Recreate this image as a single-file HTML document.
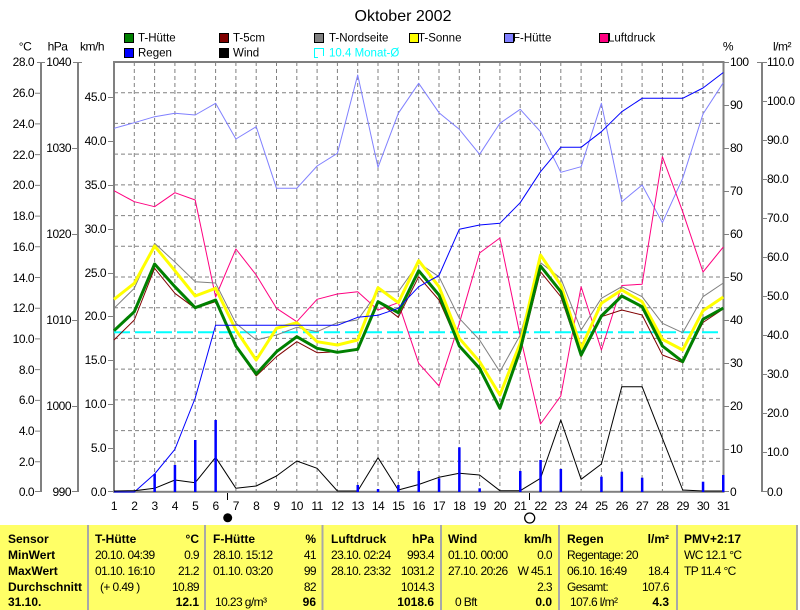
<!DOCTYPE html>
<html><head><meta charset="utf-8"><style>
html,body{margin:0;padding:0;background:#fff;}
svg{display:block;}
text{font-family:"Liberation Sans",Arial,sans-serif;fill:#000;}
.ax{font-size:12px;letter-spacing:-0.5px;}
.lg{font-size:11.5px;}
.tb{font-size:12px;font-weight:bold;}
.tr{font-size:12px;letter-spacing:-0.6px;white-space:pre;}
</style></head><body>
<svg width="800" height="610" viewBox="0 0 800 610" xmlns="http://www.w3.org/2000/svg">
<rect x="0" y="0" width="800" height="610" fill="#fff"/>
<!-- title -->
<text x="403" y="21" text-anchor="middle" style="font-size:16px">Oktober 2002</text>

<!-- legend -->
<g class="lg">
<rect x="124.5" y="33.5" width="9" height="9" fill="#008000" stroke="#000"/><text x="138" y="41.7">T-Hütte</text>
<rect x="219.5" y="33.5" width="9" height="9" fill="#800000" stroke="#000"/><text x="233" y="41.7">T-5cm</text>
<rect x="314.5" y="33.5" width="9" height="9" fill="#808080" stroke="#000"/><text x="329" y="41.7">T-Nordseite</text>
<rect x="409.5" y="33.5" width="9" height="9" fill="#FFFF00" stroke="#000"/><text x="418" y="41.7">T-Sonne</text>
<rect x="504.5" y="33.5" width="9" height="9" fill="#8080FF" stroke="#000"/><text x="513" y="41.7">F-Hütte</text>
<rect x="599.5" y="33.5" width="9" height="9" fill="#FF0080" stroke="#000"/><text x="608" y="41.7">Luftdruck</text>
<rect x="124.5" y="48.5" width="9" height="9" fill="#0000FF" stroke="#000"/><text x="138" y="56.3">Regen</text>
<rect x="219.5" y="48.5" width="9" height="9" fill="#000000" stroke="#000"/><text x="233" y="56.3">Wind</text>
<path d="M318,57.5 L314.5,57.5 L314.5,48.5 L323.5,48.5 L323.5,56" fill="none" stroke="#00FFFF" stroke-width="1"/>
<text x="329" y="56.3" style="fill:#00FFFF">10.4 Monat-Ø</text>
</g>

<!-- unit labels -->
<g class="ax">
<text x="25" y="50.5" text-anchor="middle">°C</text>
<text x="57.5" y="50.5" text-anchor="middle">hPa</text>
<text x="92" y="50.5" text-anchor="middle">km/h</text>
<text x="728" y="50.5" text-anchor="middle">%</text>
<text x="782" y="50.5" text-anchor="middle">l/m²</text>
</g>

<!-- left axes lines -->
<g stroke="#808080" fill="none">
<line x1="41" y1="62" x2="41" y2="492" stroke-width="2"/>
<line x1="78" y1="62" x2="78" y2="492" stroke-width="2"/>
<line x1="762" y1="62" x2="762" y2="492" stroke-width="2"/>
<path d="M37,62.5H45 M35,93.2H41 M35,123.9H41 M35,154.6H41 M35,185.4H41 M35,216.1H41 M35,246.8H41 M35,277.5H41 M35,308.2H41 M35,338.9H41 M35,369.6H41 M35,400.4H41 M35,431.1H41 M35,461.8H41 M35,491.5H41" stroke-width="1"/>
<path d="M73,62.5H82 M72,148.5H78 M72,234.5H78 M72,320.5H78 M72,406.5H78 M72,491.5H78" stroke-width="1"/>
<path d="M108,97.5H114 M108,141.5H114 M108,185.5H114 M108,229.5H114 M108,273.5H114 M108,316.5H114 M108,360.5H114 M108,404.5H114 M108,448.5H114 M108,491.5H114" stroke-width="1"/>
<path d="M723,62.5H729 M723,105.5H729 M723,148.5H729 M723,191.5H729 M723,234.5H729 M723,277.5H729 M723,320.5H729 M723,363.5H729 M723,406.5H729 M723,449.5H729 M723,491.5H729" stroke-width="1"/>
<path d="M757,62.5H767 M762,101.5H767 M762,140.5H767 M762,179.5H767 M762,218.5H767 M762,257.5H767 M762,296.5H767 M762,335.5H767 M762,374.5H767 M762,413.5H767 M762,452.5H767 M762,491.5H767" stroke-width="1"/>
</g>

<!-- axis labels -->
<g class="ax" text-anchor="end">
<text x="34" y="66">28.0</text><text x="34" y="97">26.0</text><text x="34" y="128">24.0</text><text x="34" y="159">22.0</text><text x="34" y="189">20.0</text><text x="34" y="220">18.0</text><text x="34" y="251">16.0</text><text x="34" y="282">14.0</text><text x="34" y="312">12.0</text><text x="34" y="343">10.0</text><text x="34" y="374">8.0</text><text x="34" y="404">6.0</text><text x="34" y="435">4.0</text><text x="34" y="466">2.0</text><text x="34" y="496">0.0</text>
<text x="71" y="66">1040</text><text x="71" y="152">1030</text><text x="71" y="238">1020</text><text x="71" y="324">1010</text><text x="71" y="410">1000</text><text x="71" y="496">990</text>
<text x="106" y="101">45.0</text><text x="106" y="145">40.0</text><text x="106" y="189">35.0</text><text x="106" y="233">30.0</text><text x="106" y="277">25.0</text><text x="106" y="320">20.0</text><text x="106" y="364">15.0</text><text x="106" y="408">10.0</text><text x="106" y="452">5.0</text><text x="106" y="496">0.0</text>
</g>
<g class="ax">
<text x="730" y="66">100</text><text x="730" y="109">90</text><text x="730" y="152">80</text><text x="730" y="195">70</text><text x="730" y="238">60</text><text x="730" y="281">50</text><text x="730" y="324">40</text><text x="730" y="367">30</text><text x="730" y="410">20</text><text x="730" y="453">10</text><text x="730" y="496">0</text>
<text x="767" y="66">110.0</text><text x="767" y="105">100.0</text><text x="767" y="144">90.0</text><text x="767" y="183">80.0</text><text x="767" y="222">70.0</text><text x="767" y="261">60.0</text><text x="767" y="300">50.0</text><text x="767" y="339">40.0</text><text x="767" y="378">30.0</text><text x="767" y="417">20.0</text><text x="767" y="456">10.0</text><text x="767" y="496">0.0</text>
</g>

<!-- day labels -->
<g class="ax" text-anchor="middle">
<text x="114" y="510">1</text><text x="134.3" y="510">2</text><text x="154.6" y="510">3</text><text x="174.9" y="510">4</text><text x="195.2" y="510">5</text><text x="215.6" y="510">6</text><text x="235.9" y="510">7</text><text x="256.2" y="510">8</text><text x="276.5" y="510">9</text><text x="296.8" y="510">10</text><text x="317.1" y="510">11</text><text x="337.4" y="510">12</text><text x="357.7" y="510">13</text><text x="378" y="510">14</text><text x="398.3" y="510">15</text><text x="418.7" y="510">16</text><text x="439" y="510">17</text><text x="459.3" y="510">18</text><text x="479.6" y="510">19</text><text x="499.9" y="510">20</text><text x="520.2" y="510">21</text><text x="540.5" y="510">22</text><text x="560.8" y="510">23</text><text x="581.1" y="510">24</text><text x="601.4" y="510">25</text><text x="621.8" y="510">26</text><text x="642.1" y="510">27</text><text x="662.4" y="510">28</text><text x="682.7" y="510">29</text><text x="703" y="510">30</text><text x="723.3" y="510">31</text>
</g>

<!-- grid -->
<g stroke="#808080" stroke-width="1" stroke-dasharray="4 3" fill="none">
<path d="M114,92.7H723 M114,123.4H723 M114,154.1H723 M114,184.9H723 M114,215.6H723 M114,246.3H723 M114,277H723 M114,307.7H723 M114,338.4H723 M114,369.1H723 M114,399.9H723 M114,430.6H723 M114,461.3H723"/>
<path d="M134.3,62V492 M154.6,62V492 M174.9,62V492 M195.2,62V492 M215.6,62V492 M235.9,62V492 M256.2,62V492 M276.5,62V492 M296.8,62V492 M317.1,62V492 M337.4,62V492 M357.7,62V492 M378,62V492 M398.3,62V492 M418.7,62V492 M439,62V492 M459.3,62V492 M479.6,62V492 M499.9,62V492 M520.2,62V492 M540.5,62V492 M560.8,62V492 M581.1,62V492 M601.4,62V492 M621.8,62V492 M642.1,62V492 M662.4,62V492 M682.7,62V492 M703,62V492"/>
</g>

<!-- plot border -->
<rect x="114" y="62" width="609.5" height="429.8" fill="none" stroke="#808080" stroke-width="2"/>

<!-- monthly average -->
<line x1="114" y1="332.3" x2="721" y2="332.3" stroke="#00FFFF" stroke-width="2" stroke-dasharray="16 5"/>

<g fill="none" stroke-linejoin="round">
<polyline stroke="#8080FF" stroke-width="1" points="114,128.3 134.3,122.7 154.6,116.7 174.9,113.3 195.2,115 215.6,103.3 235.9,139 256.2,126.7 276.5,188.3 296.8,188.3 317.1,166 337.4,153.3 357.7,75 378,167.3 398.3,113.3 418.7,83.3 439,112.7 459.3,129.3 479.6,154.3 499.9,123.3 520.2,109.3 540.5,131.7 560.8,172.3 581.1,166.7 601.4,103.3 621.8,201.7 642.1,185 662.4,222.7 682.7,178.3 703,114 723.3,82.7"/>
<polyline stroke="#FF0080" stroke-width="1" points="114,190.7 134.3,201.7 154.6,206.7 174.9,192.7 195.2,200 215.6,297 235.9,249 256.2,275 276.5,308.3 296.8,321.7 317.1,299.3 337.4,294 357.7,291.7 378,310 398.3,302.7 418.7,363.3 439,386 459.3,323.3 479.6,253 499.9,238 520.2,336 540.5,424 560.8,396 581.1,286.7 601.4,350 621.8,285.5 642.1,284.2 662.4,156.7 682.7,211.7 703,272 723.3,247"/>
<polyline stroke="#808080" stroke-width="1" points="114,308.3 134.3,288.3 154.6,243.3 174.9,262 195.2,281.7 215.6,283 235.9,323.3 256.2,340 276.5,335 296.8,327.3 317.1,331.7 337.4,322.7 357.7,320 378,291.7 398.3,291.7 418.7,263 439,276.7 459.3,318.3 479.6,340 499.9,371.7 520.2,335 540.5,262.7 560.8,278.3 581.1,330 601.4,298.3 621.8,286.7 642.1,296.7 662.4,323.3 682.7,332.7 703,296.7 723.3,283"/>
<polyline stroke="#800000" stroke-width="1" points="114,340 134.3,320 154.6,268.3 174.9,293.3 195.2,308.3 215.6,301.7 235.9,346.7 256.2,376 276.5,356.7 296.8,341.7 317.1,352.7 337.4,351.7 357.7,350 378,301.7 398.3,317.3 418.7,276.7 439,300 459.3,346.7 479.6,370 499.9,406 520.2,353.3 540.5,271.7 560.8,296.7 581.1,356.7 601.4,316.7 621.8,310 642.1,315 662.4,355 682.7,362.7 703,322.5 723.3,309"/>
<polyline stroke="#FFFF00" stroke-width="3" points="114,299.3 134.3,283.3 154.6,246 174.9,270.7 195.2,296 215.6,288.3 235.9,330 256.2,360 276.5,328.3 296.8,322.7 317.1,341.7 337.4,345 357.7,340 378,287.7 398.3,302.7 418.7,260.7 439,286.7 459.3,338.3 479.6,361.7 499.9,395 520.2,343.3 540.5,255 560.8,285 581.1,348.3 601.4,303.3 621.8,290 642.1,301.7 662.4,339.3 682.7,350 703,310.7 723.3,297"/>
<polyline stroke="#008000" stroke-width="3" points="114,330.7 134.3,311.7 154.6,264 174.9,286.7 195.2,307.7 215.6,300 235.9,346 256.2,374 276.5,351.7 296.8,336.7 317.1,348.3 337.4,352.3 357.7,349.3 378,301.7 398.3,312.7 418.7,270.7 439,295 459.3,346 479.6,368.3 499.9,408.3 520.2,350 540.5,266 560.8,291.7 581.1,355 601.4,316 621.8,296 642.1,306.7 662.4,346 682.7,361.7 703,319.3 723.3,308"/>
<polyline stroke="#0000FF" stroke-width="1" points="114,492 134.3,492 154.6,474 174.9,449.3 195.2,398 215.6,325.3 235.9,325.3 256.2,325.3 276.5,325.3 296.8,325.3 317.1,325.3 337.4,325.3 357.7,317.3 378,315.3 398.3,308.3 418.7,286.7 439,275.5 459.3,229.3 479.6,225 499.9,223.3 520.2,202.7 540.5,171.7 560.8,147.3 581.1,147.3 601.4,131.7 621.8,111.7 642.1,98.3 662.4,98.3 682.7,98.3 703,88 723.3,72.5"/>
<polyline stroke="#000000" stroke-width="1" points="114,491 134.3,490.7 154.6,488.3 174.9,480 195.2,482.7 215.6,457.3 235.9,488.3 256.2,486 276.5,476 296.8,461 317.1,468.3 337.4,491 357.7,491 378,457.7 398.3,490 418.7,484.5 439,477.3 459.3,473.3 479.6,475 499.9,490.7 520.2,490.7 540.5,478.3 560.8,420 581.1,479.3 601.4,464 621.8,386.7 642.1,386.7 662.4,438.3 682.7,490 703,491 723.3,491"/>
</g>

<!-- daily rain bars -->
<g fill="#0000FF">
<rect x="153.4" y="474" width="2.5" height="18"/>
<rect x="173.7" y="465" width="2.5" height="27"/>
<rect x="194" y="440" width="2.5" height="52"/>
<rect x="214.4" y="420" width="2.5" height="72"/>
<rect x="356.5" y="485" width="2.5" height="7"/>
<rect x="376.8" y="489" width="2.5" height="3"/>
<rect x="397.1" y="485" width="2.5" height="7"/>
<rect x="417.5" y="471" width="2.5" height="21"/>
<rect x="437.8" y="478.3" width="2.5" height="13.7"/>
<rect x="458.1" y="447.3" width="2.5" height="44.7"/>
<rect x="478.4" y="488.3" width="2.5" height="3.7"/>
<rect x="519" y="471" width="2.5" height="21"/>
<rect x="539.3" y="460" width="2.5" height="32"/>
<rect x="559.6" y="469" width="2.5" height="23"/>
<rect x="600.2" y="476.7" width="2.5" height="15.3"/>
<rect x="620.6" y="471.7" width="2.5" height="20.3"/>
<rect x="640.9" y="477.7" width="2.5" height="14.3"/>
<rect x="701.8" y="481.7" width="2.5" height="10.3"/>
<rect x="722" y="475" width="2.5" height="17"/>
</g>

<!-- moon phases -->
<line x1="227.5" y1="493" x2="227.5" y2="500" stroke="#000" stroke-width="1"/>
<circle cx="227.7" cy="517.8" r="4.5" fill="#000"/>
<line x1="529.5" y1="493" x2="529.5" y2="500" stroke="#000" stroke-width="1"/>

<!-- table -->
<rect x="0" y="525" width="797" height="85" fill="#FFFF66"/>
<circle cx="529.7" cy="518" r="5" fill="#fff" stroke="#000" stroke-width="1.3"/>
<g fill="#A8A8A8">
<rect x="87" y="525" width="2" height="85"/>
<rect x="204" y="525" width="2" height="85"/>
<rect x="321.5" y="525" width="2" height="85"/>
<rect x="440" y="525" width="2" height="85"/>
<rect x="558" y="525" width="2" height="85"/>
<rect x="676" y="525" width="2" height="85"/>
<rect x="796" y="525" width="2" height="85"/>
</g>

<g class="tb">
<text x="8" y="543">Sensor</text>
<text x="8" y="559">MinWert</text>
<text x="8" y="575">MaxWert</text>
<text x="8" y="591">Durchschnitt</text>
<text x="8" y="606">31.10.</text>
<text x="95" y="543">T-Hütte</text><text x="199" y="543" text-anchor="end">°C</text>
<text x="199" y="606" text-anchor="end">12.1</text>
<text x="213" y="543">F-Hütte</text><text x="316" y="543" text-anchor="end">%</text>
<text x="316" y="606" text-anchor="end">96</text>
<text x="331" y="543">Luftdruck</text><text x="434" y="543" text-anchor="end">hPa</text>
<text x="434" y="606" text-anchor="end">1018.6</text>
<text x="448" y="543">Wind</text><text x="552" y="543" text-anchor="end">km/h</text>
<text x="552" y="606" text-anchor="end">0.0</text>
<text x="567" y="543">Regen</text><text x="669" y="543" text-anchor="end">l/m²</text>
<text x="669" y="606" text-anchor="end">4.3</text>
<text x="684" y="543">PMV+2:17</text>
</g>
<g class="tr" xml:space="preserve">
<text x="95" y="559">20.10.  04:39</text><text x="199" y="559" text-anchor="end">0.9</text>
<text x="95" y="575">01.10.  16:10</text><text x="199" y="575" text-anchor="end">21.2</text>
<text x="100" y="591">(+ 0.49 )</text><text x="199" y="591" text-anchor="end">10.89</text>
<text x="213" y="559">28.10.  15:12</text><text x="316" y="559" text-anchor="end">41</text>
<text x="213" y="575">01.10.  03:20</text><text x="316" y="575" text-anchor="end">99</text>
<text x="316" y="591" text-anchor="end">82</text>
<text x="215" y="606">10.23 g/m³</text>
<text x="331" y="559">23.10.  02:24</text><text x="434" y="559" text-anchor="end">993.4</text>
<text x="331" y="575">28.10.  23:32</text><text x="434" y="575" text-anchor="end">1031.2</text>
<text x="434" y="591" text-anchor="end">1014.3</text>
<text x="448" y="559">01.10.  00:00</text><text x="552" y="559" text-anchor="end">0.0</text>
<text x="448" y="575">27.10.  20:26</text><text x="552" y="575" text-anchor="end">W 45.1</text>
<text x="552" y="591" text-anchor="end">2.3</text>
<text x="455" y="606">0 Bft</text>
<text x="567" y="559">Regentage: 20</text>
<text x="567" y="575">06.10.  16:49</text><text x="669" y="575" text-anchor="end">18.4</text>
<text x="567" y="591">Gesamt:</text><text x="669" y="591" text-anchor="end">107.6</text>
<text x="570" y="606">107.6 l/m²</text>
<text x="684" y="559">WC 12.1 °C</text>
<text x="684" y="575">TP 11.4 °C</text>
</g>
</svg>
</body></html>
